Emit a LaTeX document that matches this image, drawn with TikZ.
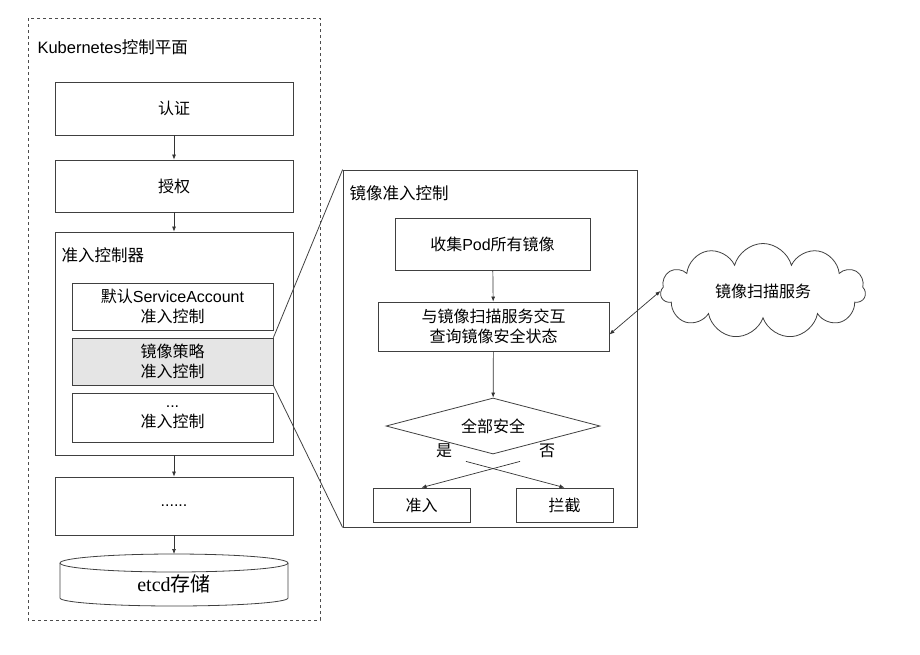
\documentclass[tikz,border=0pt]{standalone}
\usepackage{fontspec}
\setmainfont{Noto Sans CJK SC}
\newfontfamily\lat{Liberation Sans}
\newfontfamily\ser{Liberation Serif}
\usetikzlibrary{shapes.geometric,shapes.symbols,arrows.meta}
\begin{document}
\begin{tikzpicture}[x=1pt,y=-1pt,
  box/.style={draw=black!75,line width=0.8pt,inner sep=0pt,font=\fontsize{16}{20}\selectfont,align=center},
  arr/.style={-{Latex[length=5pt,width=4pt]},line width=0.7pt,black!80},
  lbl/.style={anchor=west,font=\fontsize{16.5}{19}\selectfont}]
\useasboundingbox (0,0) rectangle (920,654);
\draw[dashed,line width=0.7pt,black!70] (28,18) rectangle (320,620);
\node[lbl] (t1) at (34,47) {{\lat Kubernetes}控制平面};
\node[box,minimum width=238pt,minimum height=53pt] (auth) at (174,108.5) {认证};
\node[box,minimum width=238pt,minimum height=52pt] (authz) at (174,186) {授权};
\node[box,minimum width=238pt,minimum height=223pt] (adm) at (174,343.5) {};
\node[lbl] (admt) at (58,255) {准入控制器};
\node[box,minimum width=201pt,minimum height=47pt] (sa) at (172.5,306.5) {默认{\lat ServiceAccount}\\准入控制};
\node[box,fill=black!10,minimum width=201pt,minimum height=47pt] (img) at (172.5,361.5) {镜像策略\\准入控制};
\node[box,minimum width=201pt,minimum height=49pt] (oth) at (172.5,417.5) {{\lat ...}\\准入控制};
\node[box,minimum width=238pt,minimum height=58pt] (dots) at (174,506) {{\lat ......}};
\draw[line width=0.8pt,black!75] (60,563) -- (60,598) arc[start angle=180,end angle=0,x radius=114,y radius=8] -- (288,563);
\draw[line width=0.8pt,black!75] (174,563) ellipse[x radius=114,y radius=9];
\node[font=\fontsize{20}{22}\selectfont] (etcd) at (174,584) {{\ser etcd}存储};
\coordinate (etcdtop) at (174,554);
\draw[arr] (auth) -- (authz);
\draw[arr] (authz) -- (adm);
\draw[arr] (adm) -- (dots);
\draw[arr] (dots) -- (etcdtop);
% right panel
\node[box,minimum width=294pt,minimum height=357pt] (panel) at (490,348.5) {};
\node[lbl] (pt) at (346,193) {镜像准入控制};
\draw[line width=0.8pt,black!75] (img.north east) -- (panel.north west);
\draw[line width=0.8pt,black!75] (img.south east) -- (panel.south west);
\node[box,minimum width=195pt,minimum height=52pt] (col) at (492.5,244) {收集{\lat Pod}所有镜像};
\node[box,minimum width=231pt,minimum height=49pt] (q) at (493.5,326.5) {与镜像扫描服务交互\\查询镜像安全状态};
\node[draw=black!75,line width=0.8pt,diamond,aspect=3.8,inner sep=0pt,minimum width=214pt,minimum height=56pt,font=\fontsize{16}{18}\selectfont] (dia) at (493,426) {全部安全};
\node[box,minimum width=97pt,minimum height=34pt] (ok) at (421.5,505) {准入};
\node[box,minimum width=97pt,minimum height=34pt] (no) at (564.5,505) {拦截};
\draw[arr] (col) -- (q);
\draw[arr] (q) -- (dia);
\draw[arr] (dia.south) ++(27,7) -- (ok.north);
\draw[arr] (dia.south) ++(-27,7) -- (no.north);
\node[font=\fontsize{16}{18}\selectfont] (yes) at (444,451) {是};
\node[font=\fontsize{16}{18}\selectfont] (nol) at (547,451) {否};
\node[cloud,draw=black!75,line width=0.8pt,cloud puffs=11,aspect=2.6,minimum width=205pt,minimum height=95pt,font=\fontsize{16}{18}\selectfont] (cl) at (763,291) {镜像扫描服务};
\draw[{Latex[length=5pt,width=4pt]}-{Latex[length=5pt,width=4pt]},line width=0.7pt,black!80] (q.east) ++(0,8) -- (cl.west);
\end{tikzpicture}
\end{document}
